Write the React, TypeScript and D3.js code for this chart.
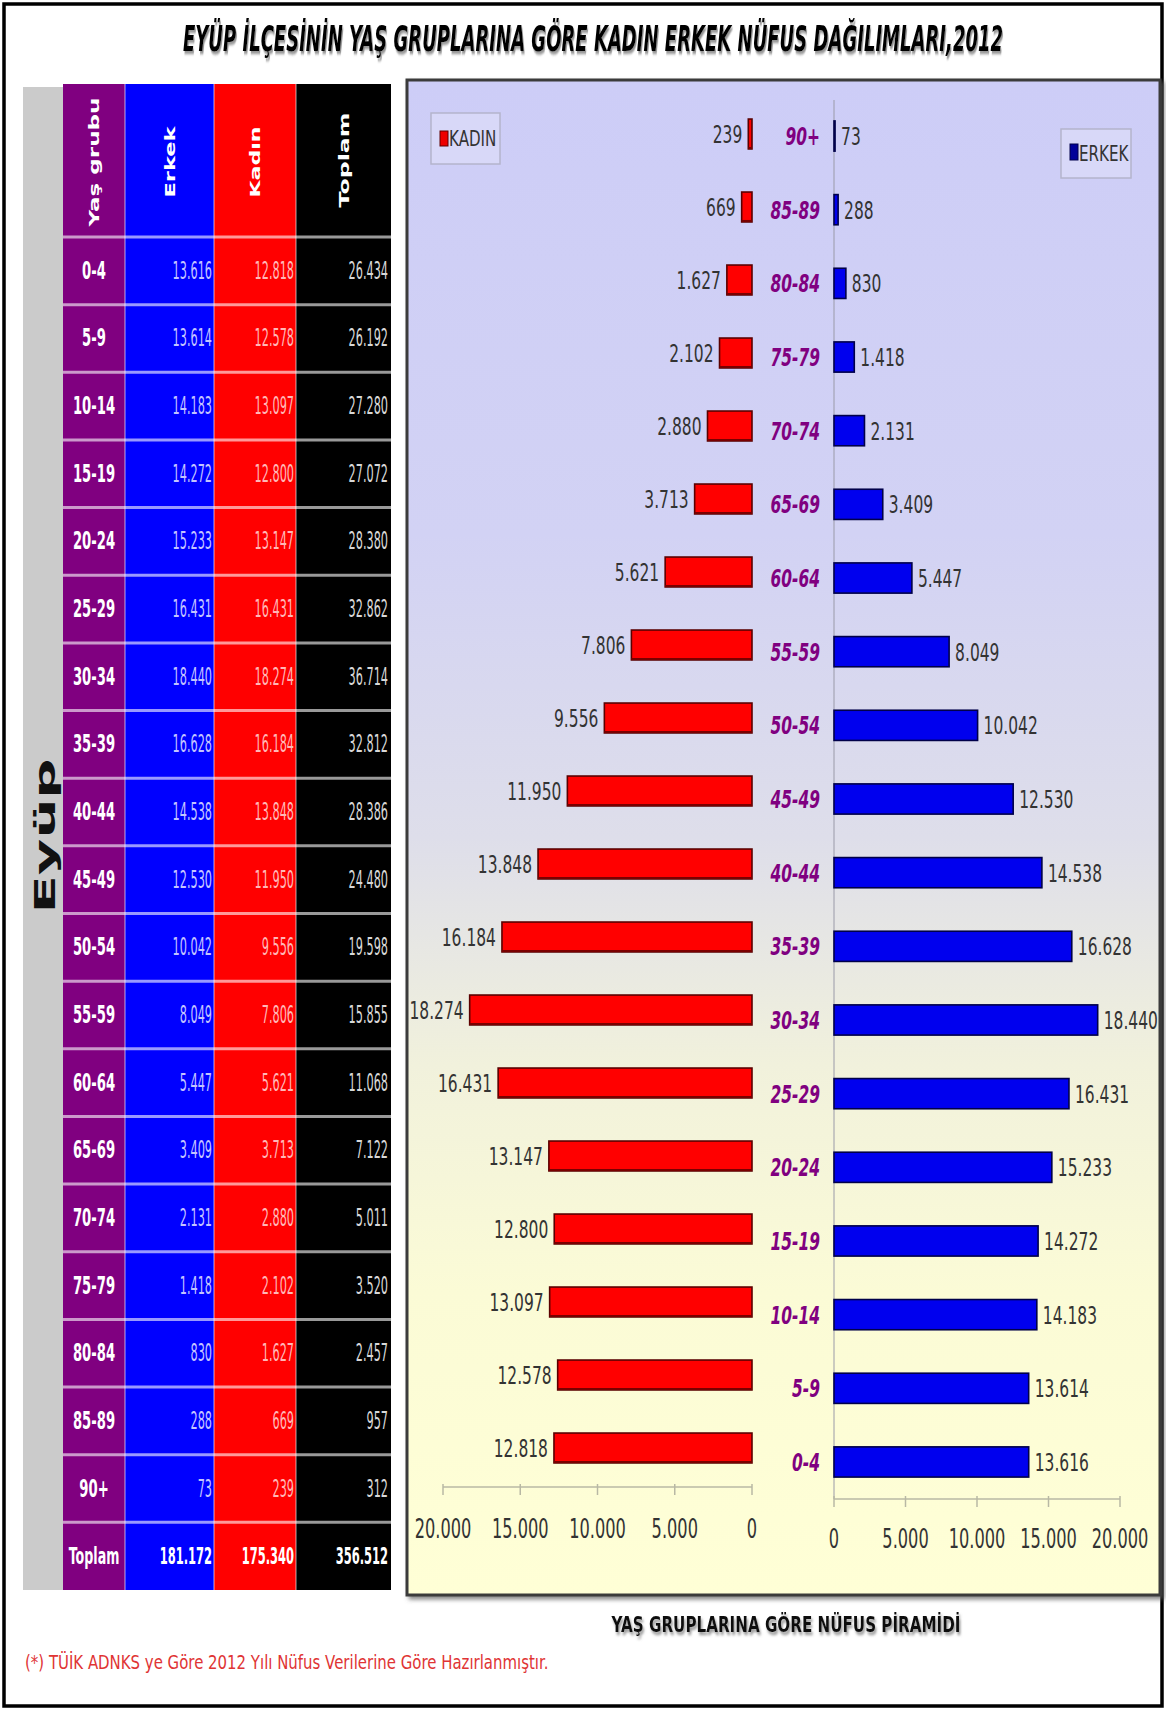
import React, { useEffect, useRef, useState } from "react";
import * as d3 from "d3";

const ageGroups = ["0-4","5-9","10-14","15-19","20-24","25-29","30-34","35-39","40-44","45-49","50-54","55-59","60-64","65-69","70-74","75-79","80-84","85-89","90+"];
const erkek = [13616,13614,14183,14272,15233,16431,18440,16628,14538,12530,10042,8049,5447,3409,2131,1418,830,288,73];
const kadin = [12818,12578,13097,12800,13147,16431,18274,16184,13848,11950,9556,7806,5621,3713,2880,2102,1627,669,239];
const toplam = [26434,26192,27280,27072,28380,32862,36714,32812,28386,24480,19598,15855,11068,7122,5011,3520,2457,957,312];
const totalRow = { label: "Toplam", erkek: 181172, kadin: 175340, toplam: 356512 };
const headerLabels = ["Yaş grubu", "Erkek", "Kadın", "Toplam"];
const axisTicks = [0, 5000, 10000, 15000, 20000];

const title = "EYÜP İLÇESİNİN YAŞ GRUPLARINA GÖRE  KADIN ERKEK NÜFUS DAĞILIMLARI,2012";
const subTitle = "YAŞ GRUPLARINA GÖRE  NÜFUS PİRAMİDİ";
const footNote = "(*) TÜİK  ADNKS ye Göre 2012 Yılı Nüfus Verilerine Göre Hazırlanmıştır.";
const districtLabel = "Eyüp";

const locale = d3.formatLocale({ decimal: ",", thousands: ".", grouping: [3], currency: ["", ""] });
const fmt = locale.format(",d");

const FONT = "'DejaVu Sans', Verdana, sans-serif";

function CText(props: any) {
  const { x, y, sx = 0.62, anchor = "start", size = 25, fill = "#333", weight = "normal", style = "normal", children } = props;
  return (
    <text
      transform={`translate(${x},${y}) scale(${sx},1)`}
      textAnchor={anchor}
      fontSize={size}
      fill={fill}
      fontWeight={weight}
      fontStyle={style}
      fontFamily={FONT}
    >
      {children}
    </text>
  );
}

// text squeezed horizontally to a target width (measured after mount)
function FitText(props: any) {
  const { x, y, width, anchor = "middle", size, weight = "normal", style = "normal", fill = "#000", filter, children } = props;
  const ref = useRef<SVGTextElement>(null);
  const [sx, setSx] = useState(0.5);
  useEffect(() => {
    if (ref.current) {
      const len = ref.current.getComputedTextLength();
      if (len > 0) setSx(width / len);
    }
  }, [width, children]);
  return (
    <text
      ref={ref}
      transform={`translate(${x},${y}) scale(${sx},1)`}
      textAnchor={anchor}
      fontFamily={FONT}
      fontSize={size}
      fontWeight={weight}
      fontStyle={style}
      fill={fill}
      filter={filter}
    >
      {children}
    </text>
  );
}

export default function App() {
  const W = 1166, H = 1710;

  // table geometry
  const cols = { gray: [23, 63], purple: [63, 125], blue: [125, 214], red: [214, 296], black: [296, 391] };
  const tableTop = 84, headerBottom = 237, tableBottom = 1590;
  const rowKeys = [...ageGroups, totalRow.label];
  const tY = d3.scaleBand().domain(rowKeys).range([headerBottom, tableBottom]);

  // chart geometry
  const chartOrder = ageGroups.slice().reverse();
  const kx = d3.scaleLinear().domain([0, 20000]).range([752, 443]);
  const ex = d3.scaleLinear().domain([0, 20000]).range([834, 1120]);
  const ky = d3.scaleBand().domain(chartOrder).range([97.5, 1484.5]).paddingInner(0.59).paddingOuter(0.295);
  const ey = d3.scaleBand().domain(chartOrder).range([99.2, 1498.8]).paddingInner(0.59).paddingOuter(0.295);
  const kAxisY = 1487, eAxisY = 1499;

  const kMap = new Map(ageGroups.map((a, i) => [a, kadin[i]]));
  const eMap = new Map(ageGroups.map((a, i) => [a, erkek[i]]));

  const headerX = [
    (cols.purple[0] + cols.purple[1]) / 2 + 5,
    (cols.blue[0] + cols.blue[1]) / 2 + 5,
    (cols.red[0] + cols.red[1]) / 2 + 5,
    (cols.black[0] + cols.black[1]) / 2 + 5,
  ];
  const headerLen = [129, 71, 71, 95];
  const headerMid = [162, 162, 162, 160];

  return (
    <svg width={W} height={H} style={{ position: "absolute", left: 0, top: 0, display: "block", background: "#fff" }}>
      <defs>
        <linearGradient id="panelBg" x1="0" y1="0" x2="0" y2="1">
          <stop offset="0" stopColor="#cdcdf7" />
          <stop offset="0.3" stopColor="#d2d2f4" />
          <stop offset="0.5" stopColor="#dedeea" />
          <stop offset="0.65" stopColor="#f1f1dc" />
          <stop offset="0.8" stopColor="#fbfbd6" />
          <stop offset="1" stopColor="#ffffd6" />
        </linearGradient>
        <filter id="shadow" x="-10%" y="-40%" width="120%" height="200%">
          <feDropShadow dx="2" dy="3" stdDeviation="1.5" floodColor="#777" floodOpacity="0.8" />
        </filter>
        <filter id="soft" filterUnits="userSpaceOnUse" x="0" y="0" width="1166" height="1710">
          <feDropShadow dx="3" dy="3" stdDeviation="2" floodColor="#555" floodOpacity="0.7" />
        </filter>
      </defs>

      {/* outer border */}
      <rect x={4} y={4} width={1158} height={1702} fill="#fff" stroke="#000" strokeWidth={3.5} />

      {/* title */}
      <FitText x={593} y={51} width={820} size={35} weight="bold" style="italic" fill="#000" filter="url(#shadow)">
        {title}
      </FitText>

      {/* ===== TABLE ===== */}
      <rect x={cols.gray[0]} y={tableTop + 3} width={cols.gray[1] - cols.gray[0]} height={tableBottom - tableTop - 3} fill="#cbcbcb" />
      <rect x={cols.purple[0]} y={tableTop} width={cols.purple[1] - cols.purple[0]} height={tableBottom - tableTop} fill="#800080" />
      <rect x={cols.blue[0]} y={tableTop} width={cols.blue[1] - cols.blue[0]} height={tableBottom - tableTop} fill="#0000ff" />
      <rect x={cols.red[0]} y={tableTop} width={cols.red[1] - cols.red[0]} height={tableBottom - tableTop} fill="#ff0000" />
      <rect x={cols.black[0]} y={tableTop} width={cols.black[1] - cols.black[0]} height={tableBottom - tableTop} fill="#000" />

      {/* column separators */}
      {[cols.blue[0], cols.red[0], cols.black[0]].map((x, i) => (
        <line key={i} x1={x} x2={x} y1={tableTop} y2={tableBottom} stroke="#fff" strokeOpacity={0.55} strokeWidth={1.2} />
      ))}

      {/* row separators */}
      {rowKeys.map((k) => (
        <line
          key={"sep" + k}
          x1={cols.purple[0]}
          x2={cols.black[1]}
          y1={tY(k)!}
          y2={tY(k)!}
          stroke="#fff"
          strokeOpacity={0.6}
          strokeWidth={3}
        />
      ))}

      {/* header texts */}
      {headerLabels.map((h, i) => (
        <text
          key={h}
          transform={`translate(${headerX[i]},${headerMid[i]}) rotate(-90)`}
          textAnchor="middle"
          fontFamily={FONT}
          fontWeight="bold"
          fontSize={14}
          fill="#fff"
          textLength={headerLen[i]}
          lengthAdjust="spacingAndGlyphs"
        >
          {h}
        </text>
      ))}

      {/* district label */}
      <text
        transform={`translate(55,836) rotate(-90)`}
        textAnchor="middle"
        fontFamily={FONT}
        fontWeight="bold"
        fontSize={29}
        fill="#111"
        textLength={155}
        lengthAdjust="spacingAndGlyphs"
      >
        {districtLabel}
      </text>

      {/* table rows */}
      {ageGroups.map((a, i) => {
        const cy = tY(a)! + tY.bandwidth() / 2 + 8;
        return (
          <g key={"row" + a}>
            <CText x={(cols.purple[0] + cols.purple[1]) / 2} y={cy} anchor="middle" sx={0.55} size={24} fill="#fff" weight="bold">{a}</CText>
            <CText x={cols.blue[1] - 2} y={cy} anchor="end" sx={0.47} size={24} fill="#c4c4ff">{fmt(erkek[i])}</CText>
            <CText x={cols.red[1] - 2} y={cy} anchor="end" sx={0.47} size={24} fill="#ffb8b8">{fmt(kadin[i])}</CText>
            <CText x={cols.black[1] - 3} y={cy} anchor="end" sx={0.47} size={24} fill="#d8d8d8">{fmt(toplam[i])}</CText>
          </g>
        );
      })}
      {(() => {
        const cy = tY(totalRow.label)! + tY.bandwidth() / 2 + 8;
        return (
          <g>
            <CText x={(cols.purple[0] + cols.purple[1]) / 2} y={cy} anchor="middle" sx={0.55} size={23} fill="#fff" weight="bold">{totalRow.label}</CText>
            <CText x={cols.blue[1] - 2} y={cy} anchor="end" sx={0.5} size={23} fill="#fff" weight="bold">{fmt(totalRow.erkek)}</CText>
            <CText x={cols.red[1] - 2} y={cy} anchor="end" sx={0.5} size={23} fill="#fff" weight="bold">{fmt(totalRow.kadin)}</CText>
            <CText x={cols.black[1] - 3} y={cy} anchor="end" sx={0.5} size={23} fill="#fff" weight="bold">{fmt(totalRow.toplam)}</CText>
          </g>
        );
      })()}

      {/* ===== CHART PANEL ===== */}
      <rect x={407} y={80} width={753} height={1515} fill="url(#panelBg)" stroke="#3a3a3a" strokeWidth={3} filter="url(#soft)" />

      {/* erkek vertical axis */}
      <line x1={ex(0)} x2={ex(0)} y1={100} y2={eAxisY} stroke="#9a9aa8" strokeWidth={1} />

      {/* kadin bars */}
      {chartOrder.map((a) => {
        const v = kMap.get(a)!;
        const y0 = ky(a)!;
        const h = ky.bandwidth();
        return (
          <g key={"k" + a}>
            <rect x={kx(v)} y={y0} width={kx(0) - kx(v)} height={h} fill="#ff0000" stroke="#5a0000" strokeWidth={1.6} />
            <line x1={kx(v)} x2={kx(0)} y1={y0 + h - 1} y2={y0 + h - 1} stroke="#7a0000" strokeWidth={2} />
            <CText x={kx(v) - 6} y={y0 + h / 2 + 9} anchor="end">{fmt(v)}</CText>
          </g>
        );
      })}

      {/* erkek bars */}
      {chartOrder.map((a) => {
        const v = eMap.get(a)!;
        const y0 = ey(a)!;
        const h = ey.bandwidth();
        return (
          <g key={"e" + a}>
            <rect x={ex(0)} y={y0} width={ex(v) - ex(0)} height={h} fill="#0000ee" stroke="#00004a" strokeWidth={1.6} />
            <CText x={ex(v) + 6} y={y0 + h / 2 + 9} anchor="start">{fmt(v)}</CText>
            <CText x={820} y={y0 + h / 2 + 9} anchor="end" weight="bold" style="italic" fill="#800080">{a}</CText>
          </g>
        );
      })}

      {/* kadin axis */}
      <line x1={kx(20000)} x2={kx(0)} y1={kAxisY} y2={kAxisY} stroke="#b8b8a4" strokeWidth={1.5} />
      {axisTicks.map((t) => (
        <g key={"kt" + t}>
          <line x1={kx(t)} x2={kx(t)} y1={kAxisY - 3} y2={kAxisY + 8} stroke="#b8b8a4" strokeWidth={1.5} />
          <CText x={kx(t)} y={kAxisY + 51} anchor="middle" size={27} sx={0.6}>{fmt(t)}</CText>
        </g>
      ))}

      {/* erkek axis */}
      <line x1={ex(0)} x2={ex(20000)} y1={eAxisY} y2={eAxisY} stroke="#b8b8a4" strokeWidth={1.5} />
      {axisTicks.map((t) => (
        <g key={"et" + t}>
          <line x1={ex(t)} x2={ex(t)} y1={eAxisY - 3} y2={eAxisY + 8} stroke="#b8b8a4" strokeWidth={1.5} />
          <CText x={ex(t)} y={eAxisY + 49} anchor="middle" size={27} sx={0.6}>{fmt(t)}</CText>
        </g>
      ))}

      {/* legends */}
      <rect x={431} y={113} width={69} height={51} fill="#d8d8f8" stroke="#b4b4cc" strokeWidth={1.5} />
      <rect x={440} y={131} width={8} height={15} fill="#ee0000" stroke="#600000" strokeWidth={1} />
      <CText x={449} y={146} size={21} sx={0.72}>KADIN</CText>

      <rect x={1061} y={129} width={70} height={49} fill="#d8d8f8" stroke="#b4b4cc" strokeWidth={1.5} />
      <rect x={1070} y={144} width={8} height={16} fill="#000099" stroke="#00004a" strokeWidth={1} />
      <CText x={1079} y={161} size={21} sx={0.72}>ERKEK</CText>

      {/* sub title */}
      <FitText x={786} y={1632} width={349} size={22} weight="bold" fill="#111" filter="url(#shadow)">
        {subTitle}
      </FitText>

      {/* foot note */}
      <FitText x={25} y={1669} width={524} size={19} anchor="start" fill="#e03434">
        {footNote}
      </FitText>
    </svg>
  );
}
